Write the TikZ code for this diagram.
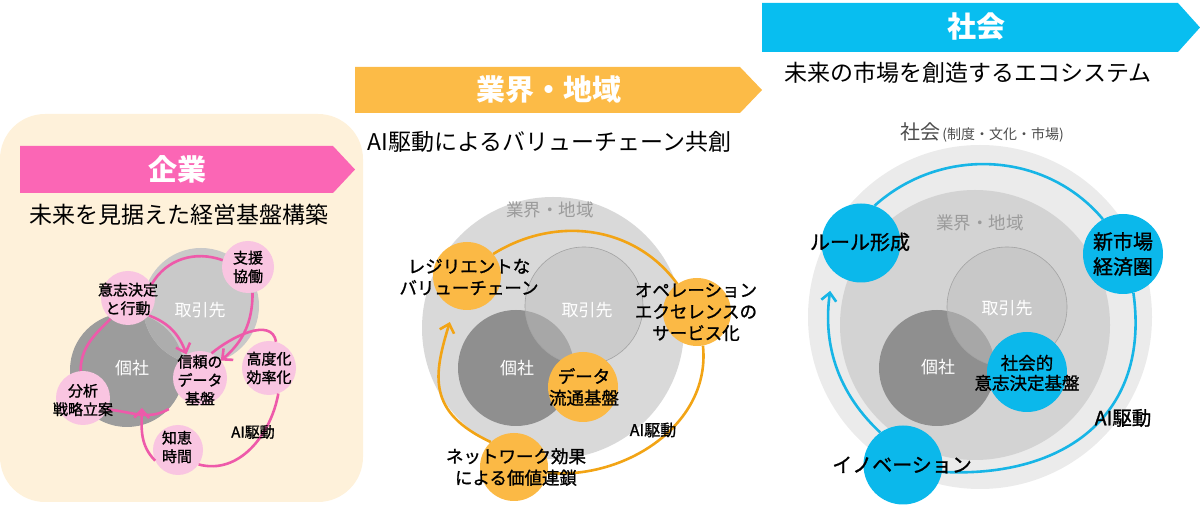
\documentclass[tikz,border=0pt]{standalone}
\usepackage{fontspec}
\setmainfont{Noto Sans CJK JP}
\newfontfamily\medfont[FakeBold=1.2]{Noto Sans CJK JP}
\usetikzlibrary{arrows.meta}

\definecolor{beige}{HTML}{FEF1DA}
\definecolor{pinkbar}{HTML}{FB66B5}
\definecolor{pinkline}{HTML}{EE5AAA}
\definecolor{pinkfill}{HTML}{F9C5E1}
\definecolor{orangebar}{HTML}{FCBB47}
\definecolor{orangefill}{HTML}{FBB945}
\definecolor{orangeline}{HTML}{F2A415}
\definecolor{bluebar}{HTML}{08BEF0}
\definecolor{bluefill}{HTML}{0BB8EB}
\definecolor{blueline}{HTML}{17B5E6}
\definecolor{lgrayA}{HTML}{C9C9C9}
\definecolor{dgrayA}{HTML}{9C9C9C}
\definecolor{ovlA}{HTML}{ADADAD}
\definecolor{areaB}{HTML}{D9D9D9}
\definecolor{outerC}{HTML}{EBEBEB}
\definecolor{areaC}{HTML}{D3D3D3}
\definecolor{darkgray}{HTML}{8F8F8F}
\definecolor{litegray}{HTML}{BFBFBF}
\definecolor{edgegray}{HTML}{A3A3A3}
\definecolor{areatext}{HTML}{9B9B9B}
\definecolor{toptext}{HTML}{4D4D4D}

\newcommand{\fsz}[2]{\fontsize{#1}{#2}\selectfont}

\begin{document}
\begin{tikzpicture}[x=1pt,y=1pt,>={Straight Barb[length=8pt,width=15pt]},
  banner/.style={text=white,font=\bfseries\fsz{29}{32}},
  subtitle/.style={font=\fsz{23}{26}},
  venn/.style={circle,inner sep=0pt},
  vennlbl/.style={text=white,font=\fsz{17}{20}},
  arealbl/.style={text=areatext,font=\fsz{17.5}{20}},
  pinkdot/.style={circle,fill=pinkfill,minimum size=54pt,inner sep=0pt},
  pinklbl/.style={align=center,font=\medfont\fsz{15}{18.5}},
  pinkarrow/.style={pinkline,line width=2.6pt},
  orangedot/.style={circle,fill=orangefill,minimum size=68pt,inner sep=0pt},
  orangelbl/.style={align=center,font=\medfont\fsz{17.5}{21.5}},
  orangearrow/.style={orangeline,line width=2.6pt},
  bluedot/.style={circle,fill=bluefill,minimum size=79pt,inner sep=0pt},
  bluelbl/.style={align=center,font=\medfont\fsz{20}{25}},
  bluearrow/.style={blueline,line width=2.6pt}]
\useasboundingbox (0,0) rectangle (1200,506);

% ---------------- enterprise ----------------
\fill[beige,rounded corners=45pt] (0,4) rectangle (363,392);
\fill[pinkbar] (20,313) -- (333,313) -- (355,336.5) -- (333,360) -- (20,360) -- cycle;
\node[banner] (kigyo) at (177,336.5) {企業};
\node[subtitle] (kigyo-sub) at (179,291) {未来を見据えた経営基盤構築};
% venn
\node[venn,fill=dgrayA,minimum size=114pt] (koshaL) at (127,136) {};
\node[venn,fill=lgrayA,minimum size=116pt,
  path picture={\fill[ovlA] (koshaL.center) circle[radius=57pt];}] (torihikiL) at (201,200) {};
\node[vennlbl] (torihikiL-t) at (200,196) {取引先};
\node[vennlbl] (koshaL-t) at (132,138) {個社};
% dots
\node[pinkdot,minimum size=52pt] (shien) at (248,239) {};
\node[pinkdot] (ishi) at (128,208) {};
\node[pinkdot] (shinrai) at (200,128) {};
\node[pinkdot] (kodo) at (269,138) {};
\node[pinkdot] (bunseki) at (83,108) {};
\node[pinkdot,minimum size=50pt] (chie) at (178,56) {};
\coordinate (chie-in) at (142,98);
% cycle
\draw[pinkarrow] (ishi.30) to[out=60,in=160] (shien.165);
\draw[pinkarrow,->] (shien.-80) to[out=-90,in=40] (shinrai.40);
\draw[pinkarrow,->] (ishi.-40) to[out=-20,in=110] (shinrai.120);
\draw[pinkarrow] (shinrai.65) to[out=40,in=100] (kodo.75);
\draw[pinkarrow] (kodo.-70) to[out=-100,in=-15] (chie.-35);
\draw[pinkarrow,->] (chie.205) to[out=135,in=-92] (chie-in);
\draw[pinkarrow] (koshaL.-43) to[out=210,in=-5] (bunseki.-25);
\draw[pinkarrow] (bunseki.95) to[out=90,in=225] (ishi.230);
% labels
\node[pinklbl] (shien-t) at (248,239) {支援\\協働};
\node[pinklbl] (ishi-t) at (128,207) {意志決定\\と行動};
\node[pinklbl] (shinrai-t) at (200,126) {信頼の\\データ\\基盤};
\node[pinklbl] (kodo-t) at (269,138) {高度化\\効率化};
\node[pinklbl] (bunseki-t) at (83,106) {分析\\戦略立案};
\node[pinklbl] (chie-t) at (177,59) {知恵\\時間};
\node[pinklbl] (aiL) at (253,74) {AI駆動};

% ---------------- industry / region ----------------
\fill[orangebar] (355,393) -- (740,393) -- (762,416) -- (740,439) -- (355,439) -- cycle;
\node[banner] (gyokai) at (549,416) {業界・地域};
\node[subtitle,anchor=west] (gyokai-sub) at (364,364) {AI駆動によるバリューチェーン共創};
% venn
\node[venn,fill=areaB,minimum size=262pt] (areaM) at (553,178) {};
\node[arealbl] (areaM-t) at (550,296) {業界・地域};
\node[venn,fill=darkgray,minimum size=116pt] (koshaM) at (516,138) {};
\node[venn,fill=litegray,fill opacity=0.5,draw=edgegray,line width=0.6pt,minimum size=118pt] (torihikiM) at (584,200) {};
\node[vennlbl] (torihikiM-t) at (587,196) {取引先};
\node[vennlbl] (koshaM-t) at (517,138) {個社};
% dots
\node[orangedot] (resil) at (467,230) {};
\node[orangedot] (opex) at (697,194) {};
\node[orangedot,minimum size=70pt] (dataflow) at (583,119) {};
\node[orangedot] (network) at (514,39) {};
% cycle
\draw[orangearrow] (resil.40) to[out=32,in=126] (opex.125);
\draw[orangearrow] (opex.-80) to[out=-84,in=-5] (network.-10);
\draw[orangearrow,->,shorten >=15pt] (network.133) to[out=155,in=253,looseness=1.3] (resil.248);
% labels
\node[orangelbl] (resil-t) at (469,229) {レジリエントな\\バリューチェーン};
\node[orangelbl] (opex-t) at (696,194) {オペレーション\\エクセレンスの\\サービス化};
\node[orangelbl] (dataflow-t) at (584,119) {データ\\流通基盤};
\node[orangelbl] (network-t) at (516,39) {ネットワーク効果\\による価値連鎖};
\node[orangelbl,font=\medfont\fsz{16}{20}] (aiM) at (653,76) {AI駆動};

% ---------------- society ----------------
\fill[bluebar] (762,454) -- (1178,454) -- (1200,478.5) -- (1178,503) -- (762,503) -- cycle;
\node[banner] (shakai) at (976,479) {社会};
\node[subtitle,anchor=west] (shakai-sub) at (781,433) {未来の市場を創造するエコシステム};
% venn
\node[venn,fill=outerC,minimum size=344pt] (outerR) at (980,189) {};
\node[text=toptext] (outerR-t) at (982,374) {{\fsz{20}{24}社会} {\fsz{14}{16}(制度・文化・市場)}};
\node[venn,fill=areaC,minimum size=270pt] (areaR) at (975,181) {};
\node[arealbl] (areaR-t) at (980,283) {業界・地域};
\node[venn,fill=darkgray,minimum size=116pt] (koshaR) at (937,138) {};
\node[venn,fill=litegray,fill opacity=0.5,draw=edgegray,line width=0.6pt,minimum size=120pt] (torihikiR) at (1007,199) {};
\node[vennlbl] (torihikiR-t) at (1007,198) {取引先};
\node[vennlbl] (koshaR-t) at (938,139) {個社};
% dots
\node[bluedot] (rule) at (861,263) {};
\node[bluedot,minimum size=80pt] (shinshijo) at (1123,252) {};
\node[bluedot,minimum size=80pt] (shakaiteki) at (1027,134) {};
\node[bluedot] (innov) at (903,41) {};
% cycle
\draw[bluearrow] (rule.70) to[out=42,in=130] (shinshijo.120);
\draw[bluearrow] (shinshijo.-75) to[out=-82,in=-3,looseness=1.2] (innov.-10);
\draw[bluearrow,->,shorten >=20pt] (innov.125) to[out=137,in=262] (rule.225);
% labels
\node[bluelbl] (rule-t) at (860,264) {ルール形成};
\node[bluelbl] (shinshijo-t) at (1123,252) {新市場\\経済圏};
\node[bluelbl,font=\medfont\fsz{17.5}{20}] (shakaiteki-t) at (1027,133) {社会的\\意志決定基盤};
\node[bluelbl] (innov-t) at (902,41) {イノベーション};
\node[bluelbl,font=\medfont\fsz{19.5}{22}] (aiR) at (1123,88) {AI駆動};
\end{tikzpicture}
\end{document}
